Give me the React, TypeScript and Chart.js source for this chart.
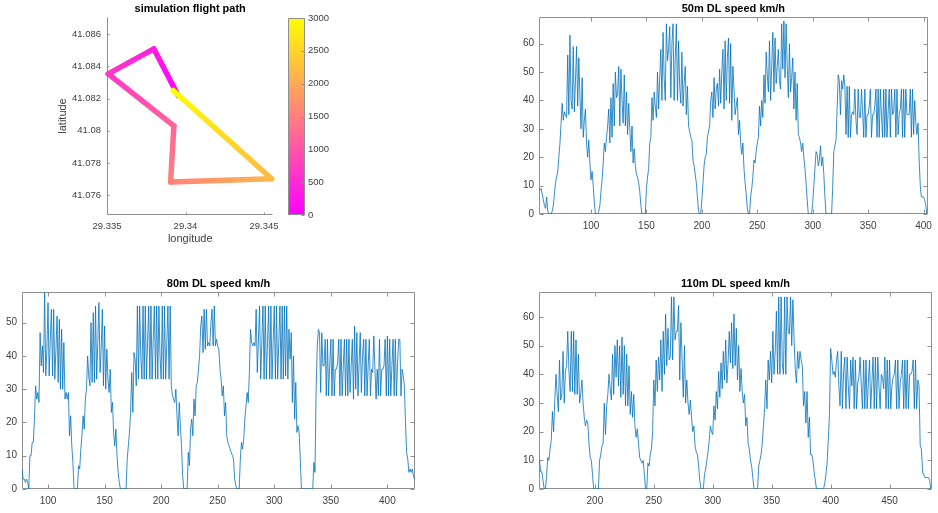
import React, { useEffect, useRef } from 'react';
import { Chart, registerables } from 'chart.js';

Chart.register(...registerables);

const FONT = '"Liberation Sans", Arial, Helvetica, sans-serif';
const INK = '#404040';
const FRAME = '#8f8f8f';
const TRACE = '#0072BD';

// Flight path corners (longitude, latitude) and the time stamp at each corner
const PATH_LON = [29.33953, 29.33798, 29.33508, 29.33926, 29.33905, 29.34548, 29.33922];
const PATH_LAT = [41.08219, 41.08509, 41.08353, 41.0803, 41.07681, 41.07701, 41.0825];
const PATH_TIME = [0, 330, 660, 1180, 1530, 2170, 3000];
const LON_TICKS = [29.335, 29.34, 29.345];
const LAT_TICKS = [41.076, 41.078, 41.08, 41.082, 41.084, 41.086];
const TIME_TICKS = [0, 500, 1000, 1500, 2000, 2500, 3000];
const TIME_RANGE = [0, 3000];

// Downlink speed (km/h) per sample, altitude 50 m, first sample index 53
const DL50_FIRST = 53;
const DL50 = [
  8.5, 8.5, 9, 7, 5, 3, 2, 6, 1, 0,
  0, 0, 1, 3, 7, 11, 13, 15, 20, 25,
  32, 39, 33, 36, 35, 34, 56, 35, 63, 40,
  37, 59, 36, 47, 59, 38, 55, 42, 30, 48,
  27, 33, 37, 25, 20, 26, 18, 12, 15, 10,
  4, 0, 0, 0, 1, 3, 8, 12, 18, 25,
  22, 27, 31, 37, 25, 41, 27, 46, 31, 50,
  41, 42, 52, 31, 51, 40, 32, 49, 31, 43,
  28, 39, 30, 22, 31, 18, 23, 17, 14, 13,
  11, 8, 3, 0, 0, 0, 0, 9, 13, 16,
  25, 27, 41, 33, 43, 38, 34, 50, 37, 48,
  58, 40, 64, 48, 40, 67, 54, 58, 66, 41,
  60, 67, 40, 55, 67, 40, 61, 45, 39, 57,
  38, 46, 52, 35, 45, 31, 29, 27, 26, 19,
  17, 14, 11, 6, 1, 0, 0, 5, 11, 17,
  20, 21, 27, 29, 31, 40, 43, 34, 48, 37,
  44, 46, 38, 51, 39, 50, 58, 37, 61, 40,
  55, 62, 39, 60, 33, 52, 44, 35, 38, 41,
  28, 33, 25, 21, 25, 16, 11, 7, 2, 0,
  0, 6, 9, 13, 19, 18, 22, 25, 27, 38,
  31, 40, 34, 49, 39, 57, 49, 43, 61, 40,
  52, 64, 43, 62, 46, 52, 58, 47, 44, 67,
  51, 68, 48, 67, 52, 41, 60, 43, 48, 55,
  37, 50, 33, 46, 28, 27, 25, 22, 25, 20,
  16, 11, 5, 0, 0, 0, 0, 4, 10, 16,
  22, 21, 17, 19, 24, 17, 20, 14, 6, 0,
  0, 0, 0, 0, 0, 9, 22, 24, 26, 37,
  49, 47, 35, 47, 44, 49, 45, 28, 45, 27,
  45, 27, 35, 36, 35, 44, 33, 28, 44, 34,
  34, 44, 36, 27, 44, 27, 35, 35, 38, 44,
  27, 35, 35, 38, 44, 27, 44, 27, 44, 35,
  27, 44, 27, 44, 27, 36, 44, 27, 44, 35,
  36, 44, 27, 44, 28, 35, 37, 44, 27, 44,
  27, 44, 35, 35, 35, 44, 27, 44, 28, 40,
  32, 28, 32, 19, 10, 6, 6, 6, 5, 3, 0,
];

// Altitude 80 m, first sample index 77
const DL80_FIRST = 77;
const DL80 = [
  6, 3, 3, 2, 3, 2, 0, 10, 10, 14,
  14, 21, 31, 27, 29, 26, 47, 37, 43, 35,
  59, 34, 42, 56, 34, 45, 54, 34, 54, 33,
  42, 52, 32, 51, 30, 48, 30, 44, 27, 29,
  27, 29, 16, 22, 13, 8, 0, 0, 0, 0,
  7, 6, 12, 16, 22, 18, 27, 30, 40, 34,
  31, 50, 32, 53, 32, 55, 33, 44, 56, 35,
  42, 54, 31, 49, 30, 42, 33, 29, 36, 23,
  26, 17, 13, 18, 10, 5, 2, 0, 0, 0,
  0, 0, 0, 9, 13, 17, 23, 35, 23, 41,
  39, 31, 55, 33, 55, 40, 33, 55, 33, 55,
  33, 44, 55, 33, 55, 33, 45, 55, 33, 55,
  33, 55, 40, 33, 55, 33, 55, 33, 44, 55,
  33, 55, 31, 28, 27, 26, 30, 22, 16, 26,
  19, 13, 4, 0, 0, 0, 0, 11, 7, 18,
  21, 16, 27, 22, 31, 32, 36, 40, 49, 52,
  41, 54, 42, 54, 43, 44, 43, 50, 54, 43,
  55, 43, 45, 43, 42, 36, 33, 28, 31, 22,
  26, 16, 14, 13, 12, 11, 10, 9, 3, 1,
  0, 0, 0, 9, 14, 12, 15, 21, 25, 29,
  26, 35, 48, 44, 43, 44, 43, 54, 35, 45,
  55, 33, 44, 55, 33, 55, 33, 44, 55, 33,
  55, 33, 44, 55, 33, 55, 33, 44, 55, 33,
  55, 33, 55, 34, 55, 33, 48, 39, 47, 26,
  40, 21, 32, 17, 19, 17, 9, 0, 0, 0,
  0, 0, 0, 0, 0, 0, 0, 0, 8, 5,
  30, 43, 48, 47, 29, 47, 37, 37, 45, 28,
  45, 28, 37, 45, 28, 45, 28, 36, 36, 38,
  45, 28, 45, 28, 37, 45, 28, 45, 28, 45,
  29, 37, 45, 27, 49, 30, 47, 28, 38, 47,
  29, 40, 45, 28, 45, 28, 37, 45, 28, 36,
  35, 46, 36, 27, 36, 28, 45, 28, 36, 36,
  37, 45, 28, 46, 28, 45, 28, 37, 45, 28,
  45, 28, 38, 45, 45, 28, 36, 34, 31, 20,
  11, 9, 5, 6, 5, 6, 4, 3,
];

// Altitude 110 m, first sample index 153
const DL110_FIRST = 153;
const DL110 = [
  10, 6, 6, 3, 0, 0, 4, 11, 10, 14,
  17, 27, 20, 31, 40, 33, 27, 45, 31, 33,
  48, 30, 41, 43, 55, 41, 34, 55, 34, 55,
  33, 52, 33, 47, 30, 33, 38, 30, 25, 22,
  24, 23, 16, 11, 10, 5, 0, 0, 0, 0,
  0, 10, 12, 15, 16, 30, 19, 29, 33, 40,
  35, 31, 47, 33, 50, 39, 52, 36, 50, 32,
  53, 33, 50, 29, 47, 29, 43, 26, 34, 25,
  33, 22, 18, 21, 16, 11, 10, 9, 10, 5,
  0, 0, 9, 8, 12, 14, 20, 38, 29, 45,
  34, 46, 38, 52, 34, 55, 40, 61, 43, 56,
  45, 46, 67, 45, 67, 52, 55, 55, 64, 38,
  58, 45, 32, 50, 30, 38, 30, 26, 31, 25,
  20, 22, 15, 13, 12, 8, 3, 0, 0, 0,
  5, 7, 10, 13, 17, 22, 20, 19, 29, 24,
  34, 28, 41, 32, 44, 35, 48, 38, 52, 37,
  44, 55, 44, 58, 42, 61, 43, 56, 38, 50,
  34, 42, 34, 30, 33, 22, 25, 16, 14, 10,
  8, 4, 0, 0, 0, 0, 8, 10, 12, 16,
  22, 28, 38, 28, 45, 38, 48, 37, 55, 40,
  48, 62, 40, 67, 40, 67, 44, 40, 67, 40,
  67, 55, 54, 67, 50, 66, 52, 42, 37, 48,
  42, 48, 45, 43, 29, 34, 23, 34, 18, 25,
  12, 12, 10, 6, 3, 0, 0, 0, 0, 0,
  0, 0, 2, 5, 9, 17, 26, 49, 45, 40,
  41, 39, 45, 48, 36, 29, 48, 28, 41, 46,
  28, 46, 36, 28, 45, 36, 46, 28, 45, 28,
  37, 39, 46, 36, 28, 45, 28, 45, 28, 37,
  45, 28, 37, 46, 28, 46, 28, 46, 36, 28,
  40, 39, 35, 46, 28, 45, 28, 45, 28, 36,
  39, 40, 45, 28, 45, 28, 37, 40, 45, 28,
  45, 28, 45, 28, 40, 40, 41, 45, 28, 45,
  28, 38, 36, 15, 14, 6, 5, 4, 4, 4,
  4, 3, 0,
];

const X_TICKS_50 = [100, 150, 200, 250, 300, 350, 400];
const X_TICKS_80 = [100, 150, 200, 250, 300, 350, 400];
const X_TICKS_110 = [200, 250, 300, 350, 400, 450];
const Y_TICKS_70 = [0, 10, 20, 30, 40, 50, 60];
const Y_TICKS_60 = [0, 10, 20, 30, 40, 50];

// "spring" colour map: magenta -> yellow
function spring(v: number): string {
  const t = Math.min(1, Math.max(0, (v - TIME_RANGE[0]) / (TIME_RANGE[1] - TIME_RANGE[0])));
  return `rgb(255, ${Math.round(255 * t)}, ${Math.round(255 * (1 - t))})`;
}

type FrameOpts = { title?: string; sides: 'box' | 'lb' | 'bar'; tickLen: number; above?: boolean };

function drawFrame(chart: any, o: FrameOpts) {
  const { ctx, chartArea: a, scales } = chart;
  const L = Math.round(a.left) + 0.5;
  const R = Math.round(a.right) - 0.5;
  const T = Math.round(a.top) + 0.5;
  const B = Math.round(a.bottom) - 0.5;
  ctx.save();
  ctx.strokeStyle = FRAME;
  ctx.lineWidth = 1;
  ctx.beginPath();
  if (o.sides === 'lb') {
    ctx.moveTo(L, T);
    ctx.lineTo(L, B);
    ctx.lineTo(R, B);
  } else {
    ctx.rect(L, T, R - L, B - T);
  }
  const xs = scales.x;
  const ys = scales.y;
  if (o.sides !== 'bar') {
    for (const t of xs.ticks) {
      const p = Math.round(xs.getPixelForValue(t.value)) + 0.5;
      ctx.moveTo(p, B);
      ctx.lineTo(p, B - o.tickLen);
      if (o.sides === 'box') {
        ctx.moveTo(p, T);
        ctx.lineTo(p, T + o.tickLen);
      }
    }
  }
  for (const t of ys.ticks) {
    const p = Math.round(ys.getPixelForValue(t.value)) + 0.5;
    if (o.sides === 'bar') {
      ctx.moveTo(R, p);
      ctx.lineTo(R - o.tickLen, p);
    } else {
      ctx.moveTo(L, p);
      ctx.lineTo(L + o.tickLen, p);
      if (o.sides === 'box') {
        ctx.moveTo(R, p);
        ctx.lineTo(R - o.tickLen, p);
      }
    }
  }
  ctx.stroke();
  if (o.title) {
    ctx.fillStyle = '#000';
    ctx.font = `bold 11px ${FONT}`;
    ctx.textAlign = 'center';
    ctx.textBaseline = 'middle';
    ctx.fillText(o.title, (a.left + a.right) / 2, a.top - 8);
  }
  ctx.restore();
}

const framePlugin = {
  id: 'frame',
  beforeDatasetsDraw(chart: any, _args: any, o: FrameOpts) {
    if (!o.above) drawFrame(chart, o);
  },
  afterDatasetsDraw(chart: any, _args: any, o: FrameOpts) {
    if (o.above) drawFrame(chart, o);
  },
};

function fixedTicks(values: number[]) {
  return (scale: any) => {
    scale.ticks = values.map((v) => ({ value: v }));
  };
}

function axis(extra: any, ticks: number[], size: { w?: number; h?: number }, padding: number, fontSize = 10) {
  return {
    type: 'linear',
    afterBuildTicks: fixedTicks(ticks),
    afterFit: (s: any) => {
      if (size.w !== undefined) s.width = size.w;
      if (size.h !== undefined) s.height = size.h;
    },
    grid: { display: false, drawTicks: false },
    border: { display: false },
    ticks: {
      font: { family: FONT, size: fontSize },
      color: INK,
      padding,
      autoSkip: false,
      maxRotation: 0,
      callback: (v: any) => String(v),
    },
    ...extra,
  };
}

type Box = { left: number; top: number; width: number; height: number };

function ChartCanvas({ box, make }: { box: Box; make: (c: HTMLCanvasElement) => Chart }) {
  const ref = useRef<HTMLCanvasElement>(null);
  useEffect(() => {
    const chart = make(ref.current as HTMLCanvasElement);
    return () => chart.destroy();
  }, []);
  return (
    <canvas
      ref={ref}
      width={box.width}
      height={box.height}
      style={{ position: 'absolute', left: box.left, top: box.top, width: box.width, height: box.height }}
    />
  );
}

type SpeedSpec = {
  title: string;
  first: number;
  values: number[];
  xMin: number;
  xMax: number;
  xTicks: number[];
  yMax: number;
  yTicks: number[];
  pad: { left: number; top: number; right: number; bottom: number };
  yWidth: number;
  xHeight: number;
};

function speedChart(canvas: HTMLCanvasElement, s: SpeedSpec): Chart {
  const points = s.values.map((v, i) => ({ x: s.first + i, y: v }));
  return new Chart(canvas, {
    type: 'line',
    data: {
      datasets: [
        {
          data: points,
          borderColor: TRACE,
          borderWidth: 0.8,
          pointRadius: 0,
          tension: 0,
          fill: false,
        },
      ],
    },
    options: {
      animation: false,
      responsive: false,
      events: [],
      layout: { padding: s.pad },
      plugins: {
        legend: { display: false },
        tooltip: { enabled: false },
        frame: { title: s.title, sides: 'box', tickLen: 4 },
      } as any,
      scales: {
        x: axis({ min: s.xMin, max: s.xMax }, s.xTicks, { h: s.xHeight }, 6),
        y: axis({ min: 0, max: s.yMax }, s.yTicks, { w: s.yWidth }, 5),
      } as any,
    },
    plugins: [framePlugin],
  });
}

function pathChart(canvas: HTMLCanvasElement): Chart {
  const points = PATH_LON.map((lon, i) => ({ x: lon, y: PATH_LAT[i] }));
  return new Chart(canvas, {
    type: 'line',
    data: {
      datasets: [
        {
          data: points,
          borderWidth: 5.5,
          borderCapStyle: 'round',
          borderJoinStyle: 'round',
          pointRadius: 0,
          tension: 0,
          fill: false,
          clip: false,
          segment: {
            borderColor: (ctx: any) => {
              const g = ctx.chart.ctx.createLinearGradient(ctx.p0.x, ctx.p0.y, ctx.p1.x, ctx.p1.y);
              g.addColorStop(0, spring(PATH_TIME[ctx.p0DataIndex]));
              g.addColorStop(1, spring(PATH_TIME[ctx.p1DataIndex]));
              return g;
            },
          },
        } as any,
      ],
    },
    options: {
      animation: false,
      responsive: false,
      events: [],
      layout: { padding: { left: 56, top: 17, right: 8, bottom: 0 } },
      plugins: {
        legend: { display: false },
        tooltip: { enabled: false },
        frame: { title: 'simulation flight path', sides: 'lb', tickLen: 2 },
      } as any,
      scales: {
        x: axis(
          {
            min: 29.335,
            max: 29.3456,
            title: { display: true, text: 'longitude', font: { family: FONT, size: 11 }, color: INK, padding: 0 },
          },
          LON_TICKS,
          { h: 31 },
          6,
          9.5
        ),
        y: axis(
          {
            min: 41.07476,
            max: 41.08707,
            title: { display: true, text: 'latitude', font: { family: FONT, size: 11 }, color: INK, padding: 0 },
          },
          LAT_TICKS,
          { w: 51 },
          6,
          9.5
        ),
      } as any,
    },
    plugins: [framePlugin],
  });
}

function colorbarChart(canvas: HTMLCanvasElement): Chart {
  return new Chart(canvas, {
    type: 'bar',
    data: {
      labels: [''],
      datasets: [
        {
          data: [[TIME_RANGE[0], TIME_RANGE[1]]],
          barPercentage: 1,
          categoryPercentage: 1,
          borderWidth: 0,
          backgroundColor: (ctx: any) => {
            const chart = ctx.chart;
            const y = chart.scales && chart.scales.y;
            if (!chart.chartArea || !y) return spring(0);
            const y0 = y.getPixelForValue(TIME_RANGE[0]);
            const y1 = y.getPixelForValue(TIME_RANGE[1]);
            const g = chart.ctx.createLinearGradient(0, y0, 0, y1);
            g.addColorStop(0, spring(TIME_RANGE[0]));
            g.addColorStop(1, spring(TIME_RANGE[1]));
            return g;
          },
        } as any,
      ],
    },
    options: {
      animation: false,
      responsive: false,
      events: [],
      layout: { padding: { left: 8, top: 18, right: 0, bottom: 25 } },
      plugins: {
        legend: { display: false },
        tooltip: { enabled: false },
        frame: { sides: 'bar', tickLen: 3, above: true },
      } as any,
      scales: {
        x: { type: 'category', display: false },
        y: axis({ min: TIME_RANGE[0], max: TIME_RANGE[1], position: 'right' }, TIME_TICKS, { w: 35 }, 3, 9.5),
      } as any,
    },
    plugins: [framePlugin],
  });
}

export default function App() {
  return (
    <div style={{ position: 'fixed', left: 0, top: 0, width: 938, height: 513, background: '#fff', overflow: 'hidden' }}>
      <ChartCanvas box={{ left: 0, top: 0, width: 285, height: 246 }} make={pathChart} />
      <ChartCanvas box={{ left: 280, top: 0, width: 60, height: 240 }} make={colorbarChart} />
      <ChartCanvas
        box={{ left: 480, top: 0, width: 458, height: 240 }}
        make={(c) =>
          speedChart(c, {
            title: '50m DL speed km/h',
            first: DL50_FIRST,
            values: DL50,
            xMin: 53.1,
            xMax: 403.8,
            xTicks: X_TICKS_50,
            yMax: 69.4,
            yTicks: Y_TICKS_70,
            pad: { left: 0, top: 17, right: 6, bottom: 0 },
            yWidth: 59,
            xHeight: 26,
          })
        }
      />
      <ChartCanvas
        box={{ left: 0, top: 262, width: 420, height: 251 }}
        make={(c) =>
          speedChart(c, {
            title: '80m DL speed km/h',
            first: DL80_FIRST,
            values: DL80,
            xMin: 77,
            xMax: 424.4,
            xTicks: X_TICKS_80,
            yMax: 59.2,
            yTicks: Y_TICKS_60,
            pad: { left: 0, top: 30, right: 5, bottom: 0 },
            yWidth: 22,
            xHeight: 24,
          })
        }
      />
      <ChartCanvas
        box={{ left: 480, top: 262, width: 458, height: 251 }}
        make={(c) =>
          speedChart(c, {
            title: '110m DL speed km/h',
            first: DL110_FIRST,
            values: DL110,
            xMin: 152.6,
            xMax: 486,
            xTicks: X_TICKS_110,
            yMax: 68.7,
            yTicks: Y_TICKS_70,
            pad: { left: 0, top: 30, right: 6, bottom: 0 },
            yWidth: 59,
            xHeight: 24,
          })
        }
      />
    </div>
  );
}
